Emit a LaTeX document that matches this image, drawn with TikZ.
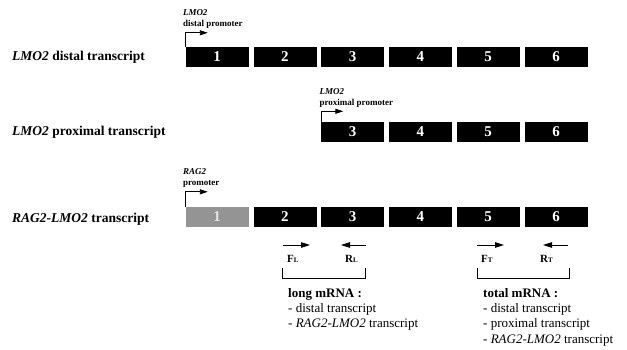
\documentclass[tikz,border=0pt]{standalone}
\usepackage{fontspec}
\setmainfont{Liberation Serif}
\usetikzlibrary{arrows.meta,calc}
\begin{document}
\begin{tikzpicture}[x=1pt,y=-1pt,
  exon/.style={draw=black,fill=black,text=white,font=\bfseries\fontsize{15}{15}\selectfont,
    minimum width=62pt,minimum height=19pt,inner sep=0pt,line width=0.4pt},
  rag/.style={exon,fill=black!42,draw=black!42,text=white!90!black},
  rowlabel/.style={anchor=west,font=\bfseries\fontsize{13.5}{14}\selectfont,inner sep=0pt},
  promlabel/.style={anchor=south west,align=left,font=\bfseries\fontsize{9}{11}\selectfont,inner sep=0pt},
  prom/.style={line width=0.9pt,-{Triangle[length=8pt,width=5pt]}},
  primer/.style={line width=1pt,-{Triangle[length=9pt,width=5.5pt]}},
  plabel/.style={font=\bfseries\fontsize{11}{11}\selectfont,inner sep=0pt,anchor=west},
  bracket/.style={line width=0.7pt},
  listtext/.style={anchor=north west,align=left,font=\fontsize{13}{15.3}\selectfont,inner sep=0pt}
]
\useasboundingbox[fill=white] (0,0) rectangle (627,350);

% row labels
\node[rowlabel] (l1) at (12,57) {\textit{LMO2} distal transcript};
\node[rowlabel] (l2) at (12,132) {\textit{LMO2} proximal transcript};
\node[rowlabel] (l3) at (12,219) {\textit{RAG2-LMO2} transcript};

% exons: distal transcript
\foreach \i/\x in {1/217,2/284.8,3/352.6,4/420.4,5/488.2,6/556}
  \node[exon] (d\i) at (\x,56.5) {\i};
% exons: proximal transcript
\foreach \i/\x in {3/352.6,4/420.4,5/488.2,6/556}
  \node[exon] (p\i) at (\x,132) {\i};
% exons: RAG2-LMO2 transcript
\node[rag] (r1) at (217,216.5) {1};
\foreach \i/\x in {2/284.8,3/352.6,4/420.4,5/488.2,6/556}
  \node[exon] (r\i) at (\x,216.5) {\i};

% promoters
\draw[prom] (d1.north west) -- ++(0,-14) coordinate (dp) -- ++(22,0);
\node[promlabel] (dpl) at ($(dp)+(-3,-4)$) {\textit{LMO2}\\distal promoter};
\draw[prom] (p3.north west) -- ++(0,-11) coordinate (pp) -- ++(22,0);
\node[promlabel] (ppl) at ($(pp)+(-2,-4)$) {\textit{LMO2}\\proximal promoter};
\draw[prom] (r1.north west) -- ++(0,-15) coordinate (rp) -- ++(22,0);
\node[promlabel] (rpl) at ($(rp)+(-3,-4)$) {\textit{RAG2}\\promoter};

% primers for long mRNA
\coordinate (fl0) at (283,245); \coordinate (fl1) at (310,245);
\coordinate (rl0) at (366,245); \coordinate (rl1) at (341,245);
\draw[primer] (fl0) -- (fl1);
\draw[primer] (rl0) -- (rl1);
\node[plabel] (fl) at (287,259) {F{\fontsize{7}{7}\selectfont L}};
\node[plabel] (rl) at (345,259) {R{\fontsize{7}{7}\selectfont L}};
\coordinate (bl0) at (282,268); \coordinate (bl1) at (365,268);
\draw[bracket] (bl0) -- ++(0,10) -| (bl1);

% primers for total mRNA
\coordinate (ft0) at (477,245); \coordinate (ft1) at (504,245);
\coordinate (rt0) at (568,245); \coordinate (rt1) at (543,245);
\draw[primer] (ft0) -- (ft1);
\draw[primer] (rt0) -- (rt1);
\node[plabel] (ft) at (481,259) {F{\fontsize{7}{7}\selectfont T}};
\node[plabel] (rt) at (540,259) {R{\fontsize{7}{7}\selectfont T}};
\coordinate (bt0) at (477,268); \coordinate (bt1) at (569,268);
\draw[bracket] (bt0) -- ++(0,10) -| (bt1);

% transcript lists
\node[listtext] (ll) at (288,288) {\textbf{long mRNA :}\\- distal transcript\\- \textit{RAG2-LMO2} transcript};
\node[listtext] (tl) at (483,288) {\textbf{total mRNA :}\\- distal transcript\\- proximal transcript\\- \textit{RAG2-LMO2} transcript};
\end{tikzpicture}
\end{document}
